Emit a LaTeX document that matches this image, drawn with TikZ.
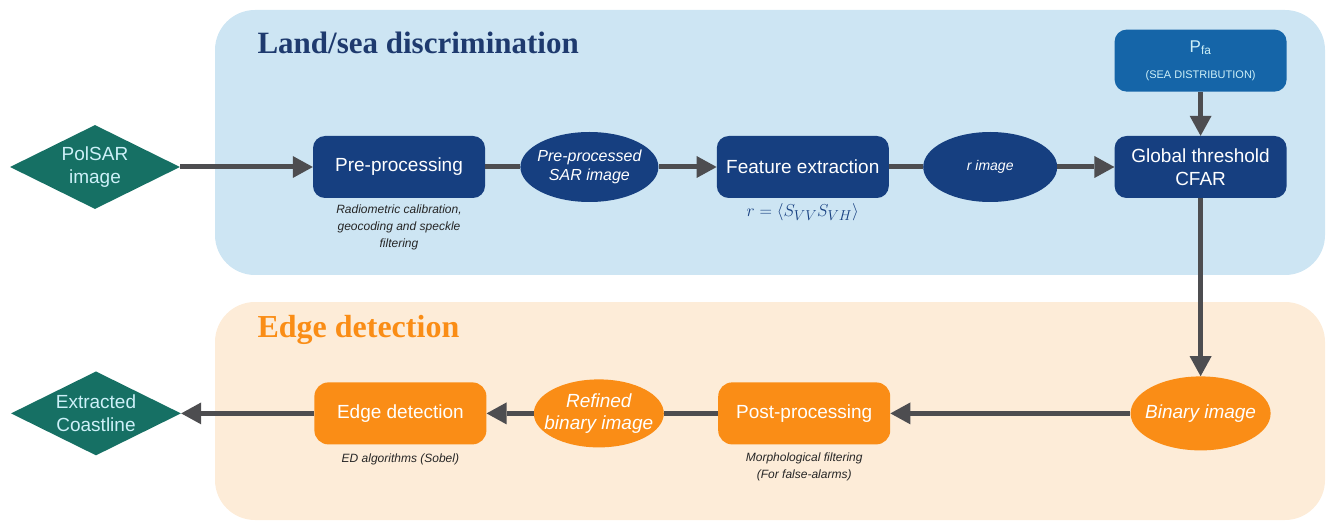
\documentclass[tikz,border=0pt]{standalone}
\usepackage{fontspec}
\setmainfont{Liberation Sans}
\newfontfamily\titlefont{Liberation Serif}
\usepackage{tikz}
\usetikzlibrary{arrows.meta,positioning,shapes.geometric}
\definecolor{landbg}{RGB}{205,229,243}
\definecolor{edgebg}{RGB}{253,236,216}
\definecolor{navy}{RGB}{22,63,128}
\definecolor{navytitle}{RGB}{30,58,110}
\definecolor{midblue}{RGB}{21,101,168}
\definecolor{seagreen}{RGB}{22,112,100}
\definecolor{orng}{RGB}{250,141,22}
\definecolor{arrowgray}{RGB}{77,77,80}
\definecolor{paletext}{RGB}{205,240,248}
\tikzstyle{proc}=[rectangle,rounded corners=12pt,fill=navy,text=white,minimum width=172pt,minimum height=62pt,font=\fontsize{19}{23}\selectfont,align=center]
\tikzstyle{data}=[ellipse,fill=navy,text=white,inner sep=0pt,font=\fontsize{16}{19}\selectfont\itshape,align=center]
\tikzstyle{io}=[diamond,aspect=2,fill=seagreen,text=paletext,inner sep=0pt,minimum width=170pt,minimum height=84pt,font=\fontsize{19}{23}\selectfont,align=center]
\tikzstyle{note}=[font=\fontsize{12}{17}\selectfont\itshape,align=center,text=black!85]
\tikzstyle{flow}=[color=arrowgray,line width=5pt]

\begin{document}
\begin{tikzpicture}[x=1pt,y=-1pt,->,>={Triangle[length=20pt,width=22pt,line width=0pt]}]
    \useasboundingbox (0,0) rectangle (1330,521);

    % panels
    \fill[landbg,rounded corners=40pt] (215,10) rectangle (1325,275);
    \fill[edgebg,rounded corners=40pt] (215,302) rectangle (1325,520);
    \node[anchor=west,text=navytitle,font=\titlefont\bfseries\fontsize{31}{35}\selectfont] (T1) at (254,43) {Land/sea discrimination};
    \node[anchor=west,text=orng,font=\titlefont\bfseries\fontsize{32}{36}\selectfont] (T2) at (254,330) {Edge detection};

    % land/sea row
    \node[io]    (In) at (95,167) {PolSAR\\image};
    \node[proc]  (L1) at (399,167) {Pre-processing};
    \node[data,minimum width=138pt,minimum height=70pt,inner xsep=-6pt] (L2) [right=35pt of L1] {Pre-processed\\SAR image};
    \node[proc]  (L3) [right=58pt of L2] {Feature extraction};
    \node[data,minimum width=134pt,minimum height=70pt,font=\fontsize{14}{17}\selectfont\itshape] (L4) [right=34pt of L3] {r image};
    \node[proc]  (L5) [right=57pt of L4] {Global threshold\\CFAR};
    \node[proc,fill=midblue,text=paletext] (Pfa) [above=44pt of L5] {{\fontsize{17}{20}\selectfont P\textsubscript{fa}}\\[3pt]{\fontsize{11}{13}\selectfont (SEA DISTRIBUTION)}};

    % edge detection row
    \node[data,fill=orng,minimum width=140pt,minimum height=74pt,inner xsep=-12pt,font=\fontsize{19}{22}\selectfont\itshape] (E1) [below=178pt of L5] {Binary image};
    \node[proc,fill=orng,rounded corners=14pt] (E2) [left=240pt of E1] {Post-processing};
    \node[data,fill=orng,minimum width=130pt,minimum height=68pt,inner xsep=-12pt,font=\fontsize{19}{22}\selectfont\itshape] (E3) [left=54pt of E2] {Refined\\binary image};
    \node[proc,fill=orng,rounded corners=14pt] (E4) [left=47pt of E3] {Edge detection};
    \node[io]    (Out) [left=133pt of E4] {Extracted\\Coastline};

    % notes
    \node[note] (N1) [below=3pt of L1] {Radiometric calibration,\\geocoding and speckle\\filtering};
    \node[text=navy,font=\fontsize{19}{22}\selectfont] (N2) [below=2pt of L3] {$r=\left\langle S_{VV}S_{VH}\right\rangle$};
    \node[note] (N3) [below=5pt of E2] {Morphological filtering\\(For false-alarms)};
    \node[note] (N4) [below=6pt of E4] {ED algorithms (Sobel)};

    \path[flow]
        (In) edge (L1)
        (L2) edge (L3)
        (L4) edge (L5)
        (Pfa) edge (L5)
        (L5) edge (E1)
        (E1) edge (E2)
        (E3) edge (E4)
        (E4) edge (Out);
    \path[flow,-]
        (L1) edge (L2)
        (L3) edge (L4)
        (E2) edge (E3);
\end{tikzpicture}
\end{document}
